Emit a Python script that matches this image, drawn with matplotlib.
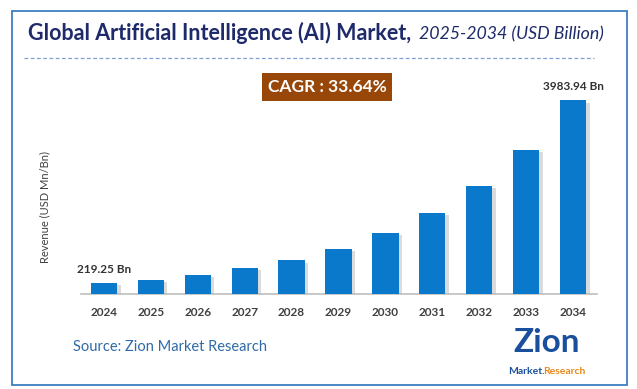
import matplotlib.pyplot as plt
import matplotlib.patheffects as pe
from matplotlib.patches import Rectangle
from matplotlib.lines import Line2D

# data
years = ["2024", "2025", "2026", "2027", "2028", "2029", "2030", "2031", "2032", "2033", "2034"]
revenue = [219.25, 294, 383, 527, 691, 932, 1255, 1667, 2223, 2970, 3983.94]
first_label = "219.25 Bn"
last_label = "3983.94 Bn"
cagr_text = "CAGR : 33.64%"

plt.rcParams['font.family'] = ['Lato', 'DejaVu Sans']

W, H = 637, 389
fig = plt.figure(figsize=(W / 100, H / 100), dpi=100)
fig.patch.set_facecolor('white')

def fx(px):
    return px / W

def fy(py):
    return 1 - py / H

# outer blue frame
fig.patches.append(Rectangle((fx(12), fy(385)), fx(615), 374 / H, transform=fig.transFigure,
                             fill=False, edgecolor='#3f7fc1', linewidth=1.3))

# title
fig.text(fx(28), fy(33), "Global Artificial Intelligence (AI) Market,", fontsize=15.5,
         fontweight='bold', color='#1f2a6b', va='center', ha='left')
fig.text(fx(419), fy(34), "2025-2034 (USD Billion)", fontsize=12.8, style='italic',
         color='#1f2a6b', va='center', ha='left')
fig.lines.append(Line2D([fx(24), fx(594)], [fy(58), fy(58)], transform=fig.transFigure,
                        color='#7f9fd0', linewidth=0.9, linestyle=(0, (3, 2))))

# chart axes
ax = fig.add_axes([fx(80.5), fy(294), fx(516), 223.5 / H])
x = list(range(len(years)))
bars = ax.bar(x, revenue, width=0.56, color='#0a78cb', zorder=3)
for b in bars:
    b.set_path_effects([pe.SimplePatchShadow(offset=(2.5, -1.5), shadow_rgbFace='#b0b0b0', alpha=0.45),
                        pe.Normal()])
ax.set_xlim(-0.5, len(years) - 0.5)
ax.set_ylim(0, 4600)
ax.set_xticks(x)
ax.set_xticklabels(years, fontsize=8.5, fontweight='bold', color='#404040')
ax.tick_params(axis='x', length=0, pad=9)
ax.set_yticks([])
for s in ['top', 'right', 'left']:
    ax.spines[s].set_visible(False)
ax.spines['bottom'].set_color('#bfbfbf')
ax.spines['bottom'].set_linewidth(1.2)
ax.set_facecolor('none')

ax.annotate(first_label, (x[0], revenue[0]), xytext=(0, 6), textcoords='offset points',
            ha='center', va='bottom', fontsize=8.5, fontweight='bold', color='#333333')
ax.annotate(last_label, (x[-1], revenue[-1]), xytext=(0, 6), textcoords='offset points',
            ha='center', va='bottom', fontsize=8.5, fontweight='bold', color='#333333')

ax.set_ylabel("Revenue (USD Mn/Bn)", fontsize=8, color='#404040')
ax.yaxis.set_label_coords(-0.058, 0.39)

# CAGR box
fig.text(fx(327), fy(87), cagr_text, fontsize=12.5, fontweight='bold', color='white',
         ha='center', va='center',
         bbox=dict(boxstyle='square,pad=0.35', facecolor='#984709', edgecolor='none'))

# source
fig.text(fx(73), fy(347), "Source: Zion Market Research", fontsize=10.5, color='#2f6aa8',
         ha='left', va='center')

# logo, drawn as text
fig.text(fx(547), fy(343), "Zion", fontsize=24, fontweight='bold', color='#1a4f9c',
         ha='center', va='center')
fig.text(fx(508), fy(371), "Market.", fontsize=7.5, fontweight='bold', color='#1a4f9c',
         ha='left', va='center')
fig.text(fx(543), fy(371), "Research", fontsize=7.5, fontweight='bold', color='#e8891a',
         ha='left', va='center')

fig.savefig("out.png", dpi=100)
